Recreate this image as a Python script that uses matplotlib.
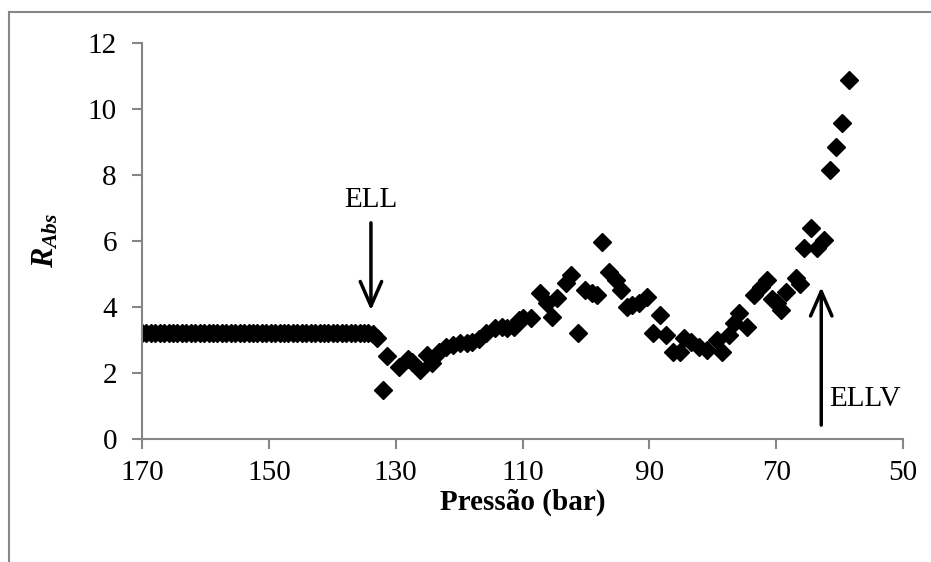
import matplotlib
matplotlib.use('Agg')
import matplotlib.pyplot as plt
from matplotlib.patches import Rectangle

plt.rcParams['font.family'] = ['Liberation Serif', 'DejaVu Serif']
plt.rcParams['mathtext.fontset'] = 'custom'
plt.rcParams['mathtext.rm'] = 'Liberation Serif:bold'
plt.rcParams['mathtext.it'] = 'Liberation Serif:italic:bold'
plt.rcParams['mathtext.bf'] = 'Liberation Serif:bold'

# flat part before the ELL point (pressure in bar, R_Abs)
p_flat = [170.0, 169.3, 168.6, 167.9, 167.2, 166.5, 165.8, 165.1, 164.4, 163.7,
          163.0, 162.3, 161.6, 160.9, 160.2, 159.5, 158.8, 158.1, 157.4, 156.7,
          156.0, 155.3, 154.6, 153.9, 153.2, 152.5, 151.8, 151.1, 150.4, 149.7,
          149.0, 148.3, 147.6, 146.9, 146.2, 145.5, 144.8, 144.1, 143.4, 142.7,
          142.0, 141.3, 140.6, 139.9, 139.2, 138.5, 137.8, 137.1, 136.4, 135.7,
          135.0, 134.3, 133.6, 133.0]
r_flat = [3.22] * 52 + [3.18, 3.05]

# after ELL
p_rest = [132.0, 131.3, 129.4, 128.1, 127.5, 126.2, 125.0, 124.2, 123.1, 122.0,
          121.0, 119.9, 118.8, 117.9, 116.8, 115.7, 114.4, 113.3, 112.4, 111.3,
          110.6, 110.0, 108.6, 107.3, 106.2, 105.3, 104.5, 103.1, 102.3, 101.3,
          100.2, 99.1, 98.2, 97.4, 96.3, 95.2, 94.4, 93.6, 92.7, 91.6,
          90.3, 89.5, 88.4, 87.3, 86.2, 85.2, 84.5, 83.4, 82.1, 80.9,
          79.4, 78.5, 77.4, 76.6, 75.8, 74.6, 73.5, 72.4, 71.4, 70.6,
          69.8, 69.2, 68.4, 66.9, 66.2, 65.6, 64.5, 63.5, 62.4, 61.5,
          60.6, 59.6, 58.5]
r_rest = [1.48, 2.50, 2.18, 2.42, 2.34, 2.10, 2.55, 2.30, 2.64, 2.79,
          2.85, 2.90, 2.90, 2.94, 3.03, 3.20, 3.36, 3.39, 3.36, 3.39,
          3.60, 3.67, 3.67, 4.42, 4.12, 3.70, 4.27, 4.73, 4.97, 3.20,
          4.52, 4.42, 4.36, 5.97, 5.06, 4.82, 4.52, 4.00, 4.06, 4.12,
          4.30, 3.20, 3.76, 3.15, 2.64, 2.64, 3.06, 2.94, 2.79, 2.70,
          3.00, 2.64, 3.15, 3.50, 3.82, 3.39, 4.36, 4.60, 4.82, 4.25,
          4.12, 3.90, 4.45, 4.88, 4.70, 5.79, 6.39, 5.79, 6.03, 8.15,
          8.85, 9.58, 10.88]

x_ticks = [170, 150, 130, 110, 90, 70, 50]
y_ticks = [0, 2, 4, 6, 8, 10, 12]

fig = plt.figure(figsize=(9.31, 5.62), dpi=100)
ax = fig.add_axes([0.1525, 0.2189, 0.8175, 0.7046])

ax.plot(p_flat + p_rest, r_flat + r_rest, 'D', color='black', ms=9.2, mec='black')

ax.set_xlim(170, 50)
ax.set_ylim(0, 12)
ax.set_xticks(x_ticks)
ax.set_yticks(y_ticks)

grey = '#868686'
for s in ['top', 'right']:
    ax.spines[s].set_visible(False)
for s in ['left', 'bottom']:
    ax.spines[s].set_color(grey)
    ax.spines[s].set_linewidth(1.5)
ax.tick_params(axis='both', direction='out', length=7, width=1.5, color=grey,
               labelsize=21, labelcolor='black')
ax.tick_params(axis='y', pad=11)
ax.tick_params(axis='x', pad=8)

ax.set_xlabel('Pressão (bar)', fontsize=21, fontweight='bold', labelpad=2)
ax.set_ylabel(r'$R_{Abs}$', fontsize=22, labelpad=20)

# arrows
arr = dict(arrowstyle='->, head_width=0.35, head_length=0.8', color='black',
           lw=2.5, mutation_scale=22, shrinkA=0, shrinkB=0)
ax.annotate('', xy=(133.9, 3.9), xytext=(133.9, 6.55), arrowprops=arr)
ax.text(133.9, 6.85, 'ELL', fontsize=21, ha='center', va='bottom')
ax.annotate('', xy=(62.9, 4.6), xytext=(62.9, 0.42), arrowprops=arr)
ax.text(61.7, 1.2, 'ELLV', fontsize=21, ha='left', va='center')

# outer chart frame (cropped at right and bottom)
fig.patches.append(Rectangle((9 / 931, -0.1), 1.2, 1 - 12 / 562 + 0.1,
                             transform=fig.transFigure, fill=False,
                             edgecolor=grey, lw=1.5))

fig.savefig('out.png', dpi=100)
